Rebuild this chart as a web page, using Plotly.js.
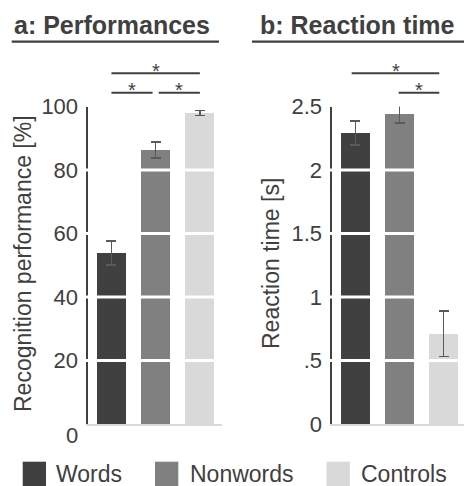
<!DOCTYPE html>
<html>
<head>
<meta charset="utf-8">
<script src="https://cdn.plot.ly/plotly-3.0.1.min.js"></script>
<style>html,body{margin:0;padding:0;background:#fff;}#chart{width:464px;height:486px;}</style>
</head>
<body>
<div id="chart"></div>
<script>
// ---- data ----
const categories = ['Words', 'Nonwords', 'Controls'];
const performance = [53.8, 86.3, 98.0];
const performanceErr = [3.8, 2.5, 0.8];
const reactionTime = [2.29, 2.44, 0.71];
const reactionTimeErr = [0.095, 0.07, 0.18];
const perfTicks = [0, 20, 40, 60, 80, 100];
const perfTickText = ['', '20', '40', '60', '80', '100'];
const rtTicks = [0, 0.5, 1, 1.5, 2, 2.5];
const rtTickText = ['0', '.5', '1', '1.5', '2', '2.5'];
const panelTitles = ['a: Performances', 'b: Reaction time'];
const yTitles = ['Recognition performance [%]', 'Reaction time [s]'];

// ---- style ----
const barColors = ['#404040', '#808080', '#d9d9d9'];
const ink = '#404040';
const FONT = 'Arial, "Liberation Sans", sans-serif';
const W = 464, H = 486;
const px = x => x / W;
const py = y => 1 - y / H;
const xs = [0, 1, 2];

function barTrace(vals, errs, xa, ya) {
  return {
    type: 'bar', x: xs, y: vals, xaxis: xa, yaxis: ya,
    width: 0.66,
    marker: {color: barColors, line: {width: 0}},
    error_y: {type: 'data', array: errs, visible: true, color: '#5a5a5a', thickness: 1.6, width: 5},
    cliponaxis: false, showlegend: false, hoverinfo: 'none'
  };
}

const data = [
  barTrace(performance, performanceErr, 'x', 'y'),
  barTrace(reactionTime, reactionTimeErr, 'x2', 'y2')
];

const shapes = [];
const annotations = [];

// white grid lines drawn over bars
perfTicks.slice(1, -1).forEach(v => shapes.push({type: 'line', xref: 'x domain', yref: 'y', x0: -0.04, x1: 1, y0: v, y1: v, line: {color: '#ffffff', width: 3}, layer: 'above'}));
rtTicks.slice(1, -1).forEach(v => shapes.push({type: 'line', xref: 'x2 domain', yref: 'y2', x0: -0.04, x1: 1, y0: v, y1: v, line: {color: '#ffffff', width: 3}, layer: 'above'}));

// panel titles + underline
[[111.5, 11.7, 219], [357.5, 252, 464]].forEach((p, i) => {
  annotations.push({xref: 'paper', yref: 'paper', x: px(p[0]), y: py(25), xanchor: 'center', yanchor: 'middle',
    text: '<b>' + panelTitles[i] + '</b>', showarrow: false, font: {family: FONT, size: 25, color: ink}});
  shapes.push({type: 'line', xref: 'paper', yref: 'paper', x0: px(p[1]), x1: px(p[2]), y0: py(41.7), y1: py(41.7), line: {color: ink, width: 2.2}});
});

// y titles
[[23, 264], [271, 264]].forEach((p, i) => {
  annotations.push({xref: 'paper', yref: 'paper', x: px(p[0]), y: py(p[1]), xanchor: 'center', yanchor: 'middle', textangle: -90,
    text: yTitles[i], showarrow: false, font: {family: FONT, size: 23, color: ink}});
});
// offset zero label of left axis
annotations.push({xref: 'paper', yref: 'paper', x: px(80), y: py(435), xanchor: 'right', yanchor: 'middle',
  text: '0', showarrow: false, font: {family: FONT, size: 22, color: ink}});

// significance brackets: [axis, from, to, line y(px), star x, star y(px)]
const brackets = [
  ['x', 0, 2, 73.3, 1.0, 66.7], ['x', 0, 0.93, 92.7, 0.46, 85.7], ['x', 1.07, 2, 92.7, 1.53, 85.7],
  ['x2', -0.085, 1.9, 73.3, 0.91, 66.7], ['x2', 0.98, 1.9, 92.7, 1.44, 85.7]
];
brackets.forEach(b => {
  shapes.push({type: 'line', xref: b[0], yref: 'paper', x0: b[1], x1: b[2], y0: py(b[3]), y1: py(b[3]), line: {color: ink, width: 2}});
  annotations.push({xref: b[0], yref: 'paper', x: b[4], y: py(b[5] + 4.5), xanchor: 'center', yanchor: 'middle',
    text: '*', showarrow: false, font: {family: FONT, size: 20, color: ink}});
});

// legend
const legendPos = [[22.7, 54], [155, 188], [326.5, 359]];
categories.forEach((c, i) => {
  const L = legendPos[i];
  shapes.push({type: 'rect', xref: 'paper', yref: 'paper', x0: px(L[0]), x1: px(L[0] + 23.3), y0: py(461.7), y1: py(486), fillcolor: barColors[i], line: {width: 0}});
  annotations.push({xref: 'paper', yref: 'paper', x: px(L[1]), y: py(474), xanchor: 'left', yanchor: 'middle',
    text: c, showarrow: false, font: {family: FONT, size: 23, color: ink}});
});

const yCommon = {
  domain: [py(424), py(106.5)], showgrid: false, zeroline: false, showline: true, linecolor: ink, linewidth: 2.5,
  ticks: '', ticklabelstandoff: 3, tickfont: {family: FONT, size: 22, color: ink}, automargin: false, fixedrange: true
};
const xCommon = {
  showgrid: false, zeroline: false, showline: true, linecolor: '#d9d9d9', linewidth: 1.5,
  showticklabels: false, ticks: '', automargin: false, fixedrange: true
};

const layout = {
  width: W, height: H,
  margin: {l: 0, r: 0, t: 0, b: 0},
  paper_bgcolor: '#ffffff', plot_bgcolor: '#ffffff',
  font: {family: FONT, color: ink},
  showlegend: false,
  bargap: 0,
  xaxis: Object.assign({}, xCommon, {domain: [px(88), px(222)], range: [-0.53, 2.5], anchor: 'y'}),
  yaxis: Object.assign({}, yCommon, {range: [0, 100], tickvals: perfTicks, ticktext: perfTickText, anchor: 'x'}),
  xaxis2: Object.assign({}, xCommon, {domain: [px(332), 1], range: [-0.53, 2.46], anchor: 'y2'}),
  yaxis2: Object.assign({}, yCommon, {range: [0, 2.5], tickvals: rtTicks, ticktext: rtTickText, anchor: 'x2'}),
  shapes: shapes,
  annotations: annotations
};

Plotly.newPlot('chart', data, layout, {displayModeBar: false, staticPlot: true});
</script>
</body>
</html>
